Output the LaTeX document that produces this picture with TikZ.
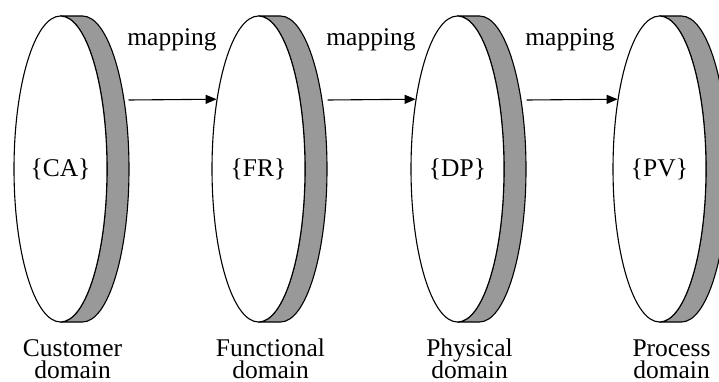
\documentclass[tikz,border=0pt]{standalone}
\usepackage{fontspec}
\setmainfont{Liberation Serif}
\usetikzlibrary{arrows.meta,shapes.geometric}
\newcommand{\domfont}{\fontsize{25.5}{22}\selectfont\lineskiplimit=-50pt\relax\lineskip=0pt\relax}
\tikzset{
  x=1pt,y=1pt,
  band/.style={draw=black,line width=1.1pt,fill=black!40,line join=round},
  frontdisc/.style={ellipse,draw=black,line width=1.1pt,fill=white,
    minimum width=93pt,minimum height=306pt,inner sep=0pt,
    font=\fontsize{25.5}{22}\selectfont},
  maplabel/.style={anchor=base,inner sep=0pt,font=\fontsize{25.5}{22}\selectfont},
  domlabel/.style={anchor=south,inner sep=0pt,align=center,font=\domfont},
  maparrow/.style={line width=1.1pt,-{Triangle[length=11pt,width=9pt]}}
}
\newcommand{\mydisc}[3]{%
  % #1 name, #2 x centre, #3 text
  \draw[band] (#2,365) -- ++(22,0) arc[start angle=90,end angle=-90,x radius=46.5,y radius=153]
     -- (#2,59) arc[start angle=-90,end angle=90,x radius=46.5,y radius=153] -- cycle;
  \node[frontdisc] (#1) at (#2,212) {#3};
}
\begin{document}
\begin{tikzpicture}
\useasboundingbox (0,0) rectangle (719,381);
\clip (0,0) rectangle (719,381);
\mydisc{ca}{60.5}{\{CA\}}
\mydisc{fr}{258.5}{\{FR\}}
\mydisc{dp}{457.5}{\{DP\}}
\mydisc{pv}{659.5}{\{PV\}}
\node[domlabel] (lca) at (72.5,2.5) {Customer\\domain};
\node[domlabel] (lfr) at (270.5,2.5) {Functional\\domain};
\node[domlabel] (ldp) at (469.5,2.5) {Physical\\domain};
\node[domlabel] (lpv) at (671.5,2.5) {Process\\domain};
\coordinate (s1) at (128.5,281);
\coordinate (s2) at (327.5,281);
\coordinate (s3) at (526.5,281);
\draw[maparrow] (s1) -- (fr.121);
\draw[maparrow] (s2) -- (dp.121);
\draw[maparrow] (s3) -- (pv.121);
\node[maplabel] (m1) at (172,335) {mapping};
\node[maplabel] (m2) at (371,335) {mapping};
\node[maplabel] (m3) at (570,335) {mapping};
\end{tikzpicture}
\end{document}
